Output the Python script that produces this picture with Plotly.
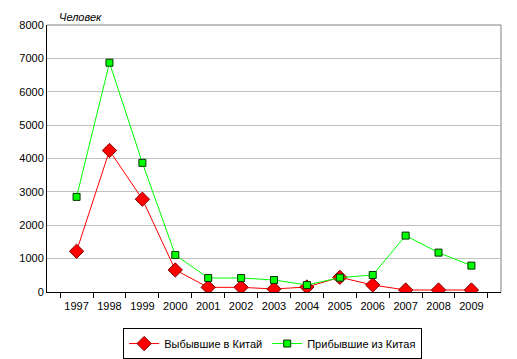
import plotly.graph_objects as go

years = ["1997", "1998", "1999", "2000", "2001", "2002", "2003", "2004", "2005", "2006", "2007", "2008", "2009"]
departed = [1220, 4240, 2780, 660, 140, 140, 90, 150, 440, 210, 60, 60, 60]
arrived = [2850, 6870, 3870, 1110, 420, 420, 360, 210, 430, 510, 1690, 1180, 790]
y_ticks = [0, 1000, 2000, 3000, 4000, 5000, 6000, 7000, 8000]

font = "Liberation Sans, Arial, sans-serif"

fig = go.Figure()
fig.add_trace(go.Scatter(
    x=years, y=departed, name="Выбывшие в Китай", mode="lines+markers",
    line=dict(color="#ff0000", width=1),
    marker=dict(symbol="diamond", size=11, color="#ff0000", line=dict(color="#800000", width=1)),
))
fig.add_trace(go.Scatter(
    x=years, y=arrived, name="Прибывшие из Китая", mode="lines+markers",
    line=dict(color="#00ff00", width=1),
    marker=dict(symbol="square", size=7, color="#00ff00", line=dict(color="#003300", width=1)),
))

fig.update_layout(
    width=517, height=359,
    margin=dict(l=47, r=16, t=25, b=67, autoexpand=False),
    paper_bgcolor="white", plot_bgcolor="white",
    font=dict(family=font, size=11, color="black"),
    showlegend=True,
    legend=dict(
        orientation="h", x=0.497, xanchor="center", y=-0.135, yanchor="top",
        bordercolor="black", borderwidth=1, font=dict(size=11),
        itemwidth=30, tracegroupgap=0,
    ),
    xaxis=dict(
        type="category", showline=True, linecolor="black", linewidth=1,
        ticks="outside", tickson="boundaries", ticklen=5, tickcolor="black",
        showgrid=False, zeroline=False, tickfont=dict(size=11), tickangle=0,
        automargin=False, ticklabelstandoff=4,
    ),
    yaxis=dict(
        range=[0, 8000], tickvals=y_ticks, showline=True, linecolor="black", linewidth=1,
        ticks="", showgrid=True, gridcolor="#c0c0c0", gridwidth=1, zeroline=False,
        tickfont=dict(size=11), automargin=False,
    ),
    shapes=[
        dict(type="line", xref="paper", yref="paper", x0=0, x1=1, y0=1, y1=1,
             line=dict(color="#808080", width=1)),
        dict(type="line", xref="paper", yref="paper", x0=1, x1=1, y0=0, y1=1,
             line=dict(color="#808080", width=1)),
    ],
    annotations=[
        dict(text="<i>Человек</i>", xref="paper", yref="paper", x=0.023, y=1.0,
             xanchor="left", yanchor="bottom", showarrow=False,
             font=dict(size=11, family=font), yshift=0),
    ],
)

fig.write_html("out.html", config={"displayModeBar": False},
               post_script="document.body.style.margin='0';")
